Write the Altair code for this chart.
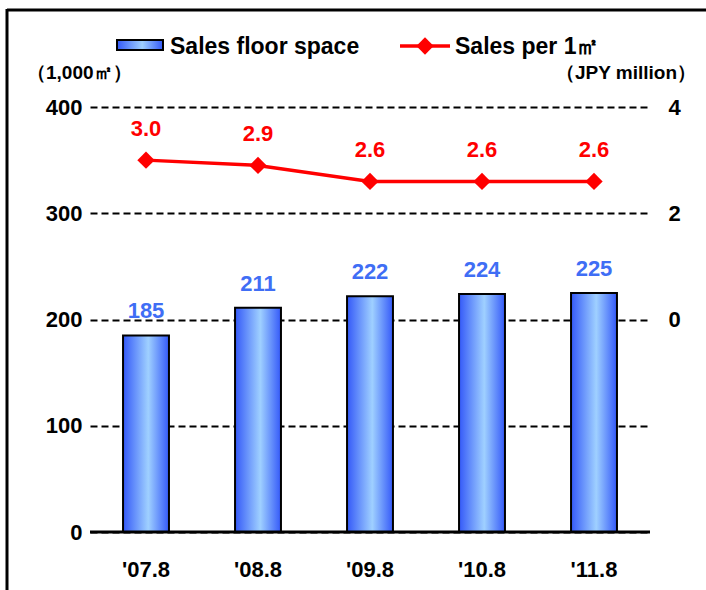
import altair as alt
import pandas as pd

periods = ["'07.8", "'08.8", "'09.8", "'10.8", "'11.8"]
floor_space = [185, 211, 222, 224, 225]
sales_per_m2 = [3.0, 2.9, 2.6, 2.6, 2.6]
left_ticks = [0, 100, 200, 300, 400]
right_ticks = [0, 2, 4]

FONT = "Liberation Sans, Arial, sans-serif"
BLUE_TXT = "#3f6ef5"
RED = "#ff0000"

df = pd.DataFrame({"period": periods, "space": floor_space, "sales": sales_per_m2})
df["sales_lbl"] = [f"{v:.1f}" for v in sales_per_m2]

grad = alt.Gradient(
    gradient="linear",
    stops=[alt.GradientStop(color="#3459f8", offset=0),
           alt.GradientStop(color="#9fd0ff", offset=0.55),
           alt.GradientStop(color="#3459f8", offset=1)],
    x1=0, x2=1, y1=0, y2=0,
)

xscale = alt.Scale(domain=periods, paddingInner=0.59, paddingOuter=0.295)
xaxis = alt.Axis(labelAngle=0, labelPadding=27, labelFontSize=22,
                 labelFont=FONT, labelFontWeight="bold", labelColor="black",
                 domain=False, ticks=False, grid=False)
xenc = alt.X("period:N", sort=periods, title=None, scale=xscale, axis=xaxis)

yleft = alt.Scale(domain=[0, 400])
yright = alt.Scale(domain=[-4, 4])

base = alt.Chart(df)

bars = base.mark_bar(fill=grad, stroke="black", strokeWidth=2).encode(
    x=xenc,
    y=alt.Y("space:Q", scale=yleft, title=None,
            axis=alt.Axis(orient="left", values=left_ticks, labelPadding=8,
                          labelFont=FONT, labelFontSize=22, labelFontWeight="bold",
                          labelColor="black", domain=False, ticks=False,
                          grid=True, gridColor="black", gridDash=[7, 4], gridWidth=1.8)),
)
bar_lbl = base.mark_text(font=FONT, fontSize=22, fontWeight="bold", color=BLUE_TXT,
                         baseline="bottom", dy=-12).encode(
    x=xenc, y=alt.Y("space:Q", scale=yleft, axis=None), text="space:Q")
baseline = alt.Chart(pd.DataFrame({"z": [0]})).mark_rule(color="black", strokeWidth=3).encode(
    y=alt.Y("z:Q", scale=yleft, axis=None), x=alt.value(0), x2=alt.value(560))

line = base.mark_line(color=RED, strokeWidth=3.5).encode(
    x=xenc,
    y=alt.Y("sales:Q", scale=yright, title=None,
            axis=alt.Axis(orient="right", values=right_ticks, labelPadding=18,
                          labelAlign="left",
                          labelFont=FONT, labelFontSize=22, labelFontWeight="bold",
                          labelColor="black", domain=False, ticks=False, grid=False)),
)
pts = base.mark_point(shape="diamond", filled=True, color=RED, size=300, opacity=1).encode(
    x=xenc, y=alt.Y("sales:Q", scale=yright, axis=None))
line_lbl = base.mark_text(font=FONT, fontSize=22, fontWeight="bold", color=RED,
                          baseline="bottom", dy=-19).encode(
    x=xenc, y=alt.Y("sales:Q", scale=yright, axis=None), text="sales_lbl:N")

one = alt.Chart(pd.DataFrame({"a": [0]}))
# decorations: legend, unit labels, frame (pixel positions relative to plot origin)
frame_top = one.mark_rule(color="black", strokeWidth=3).encode(
    x=alt.value(-83), x2=alt.value(640), y=alt.value(-97))
frame_left = one.mark_rule(color="black", strokeWidth=3).encode(
    x=alt.value(-83), y=alt.value(-98), y2=alt.value(500))
leg_rect = one.mark_rect(fill=grad, stroke="black", strokeWidth=2).encode(
    x=alt.value(27), x2=alt.value(73), y=alt.value(-67), y2=alt.value(-57))
leg_txt1 = one.mark_text(font=FONT, fontSize=23, fontWeight="bold", align="left",
                         baseline="middle", color="black").encode(
    x=alt.value(80), y=alt.value(-60), text=alt.value("Sales floor space"))
leg_line = one.mark_rule(color=RED, strokeWidth=3.5).encode(
    x=alt.value(310), x2=alt.value(360), y=alt.value(-61))
leg_pt = one.mark_point(shape="diamond", filled=True, color=RED, size=300, opacity=1).encode(
    x=alt.value(335), y=alt.value(-61))
leg_txt2 = one.mark_text(font=FONT, fontSize=23, fontWeight="bold", align="left",
                         baseline="middle", color="black").encode(
    x=alt.value(365), y=alt.value(-60), text=alt.value("Sales per 1㎡"))
unit_l = one.mark_text(font=FONT, fontSize=19, fontWeight="bold", align="left",
                       baseline="middle", color="black").encode(
    x=alt.value(-63), y=alt.value(-34), text=alt.value("（1,000㎡）"))
unit_r = one.mark_text(font=FONT, fontSize=19, fontWeight="bold", align="right",
                       baseline="middle", color="black").encode(
    x=alt.value(606), y=alt.value(-34), text=alt.value("（JPY million）"))

chart = alt.layer(
    bars, bar_lbl, baseline, line, pts, line_lbl,
    frame_top, frame_left, leg_rect, leg_txt1, leg_line, leg_pt, leg_txt2, unit_l, unit_r,
).resolve_scale(y="independent").properties(
    width=560, height=425,
    autosize=alt.AutoSizeParams(type="none"),
    padding={"left": 90, "top": 107, "right": 56, "bottom": 58},
    background="white",
).configure_view(stroke=None)

chart.save("out.html", embed_options={"renderer": "svg", "actions": False})
